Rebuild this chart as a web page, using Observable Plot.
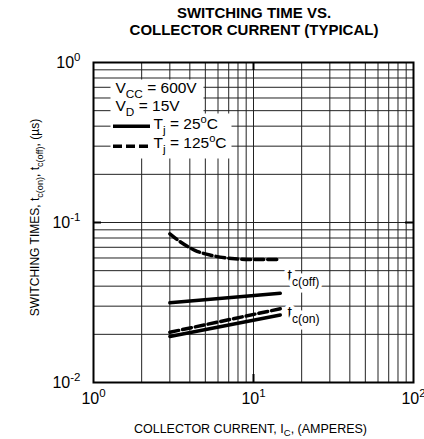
<!DOCTYPE html>
<html><head><meta charset="utf-8">
<script src="https://cdn.jsdelivr.net/npm/d3@7"></script>
<script src="https://cdn.jsdelivr.net/npm/@observablehq/plot@0.6"></script>
<style>
body{margin:0;background:#fff;font-family:"Liberation Sans",Arial,sans-serif;}
#wrap{position:relative;width:424px;height:439px;overflow:hidden;background:#fff;}
#title{position:absolute;left:93px;width:322px;top:4px;text-align:center;font-weight:bold;font-size:15px;line-height:17px;color:#000;}
#chart{position:absolute;left:0;top:40px;}
</style></head><body>
<div id="wrap"><div id="title"></div><div id="chart"></div></div>
<script>
// ---- text ----
const titleLines = ["SWITCHING TIME VS.", "COLLECTOR CURRENT (TYPICAL)"];
const xTitle = "COLLECTOR CURRENT, I_{C}, (AMPERES)";
const yTitle = "SWITCHING TIMES, t_{c(on)}, t_{c(off)}, (µs)";
const legendText = ["V_{CC} = 600V", "V_{D} = 15V", "T_{j} = 25^{o}C", "T_{j} = 125^{o}C"];

// ---- axes ----
const xDecades = [1, 10, 100];
const yDecades = [0.01, 0.1, 1];
const xGrid = [2,3,4,5,6,7,8,9,10,20,30,40,50,60,70,80,90];
const yGrid = [0.02,0.03,0.04,0.05,0.06,0.07,0.08,0.09,0.1,0.2,0.3,0.4,0.5,0.6,0.7,0.8,0.9];
const legendRowsY = [0.4, 0.3]; // legend swatches sit on these grid lines

// ---- series ----
const offI125 = [3, 3.5, 4.3, 5.5, 7.3, 9.3, 14.5];
const off125  = [0.085, 0.0755, 0.067, 0.0622, 0.0595, 0.0587, 0.0587];
const offI25  = [3, 14.7];
const off25   = [0.0315, 0.0361];
const onI     = [3, 14.7];
const on25    = [0.0194, 0.0264];
const on125   = [0.0206, 0.0289];

// ---- curve labels ----
const curveLabels = ["t_{c(off)}", "t_{c(on)}"];
const curveLabelI = [16.3, 16.3];
const curveLabelT = [0.0462, 0.0271];

const mk = (I, T, s) => I.map((d, i) => ({I: d, t: T[i], s}));
const solid = [mk(offI25, off25, "off25"), mk(onI, on25, "on25")];
const dashed = [mk(offI125, off125, "off125"), mk(onI, on125, "on125")];
const labels = curveLabels.map((l, i) => ({I: curveLabelI[i], t: curveLabelT[i], l}));

document.getElementById("title").innerHTML = titleLines.join("<br>");

const FONT = '"Liberation Sans", Arial, sans-serif';
const expFmt = d => "10^{" + Math.round(Math.log10(d)) + "}";

const plot = Plot.plot({
  width: 424, height: 399,
  marginLeft: 93, marginRight: 11, marginTop: 22, marginBottom: 57,
  style: {fontFamily: FONT, background: "white", color: "black", overflow: "visible"},
  x: {type: "log", domain: [1, 100]},
  y: {type: "log", domain: [0.01, 1]},
  marks: [
    Plot.gridX(xGrid, {stroke: "#222", strokeOpacity: 1, strokeWidth: 1}),
    Plot.gridY(yGrid, {stroke: "#222", strokeOpacity: 1, strokeWidth: 1}),
    // legend background
    Plot.frame({fill: "white", stroke: "none", insetLeft: 17, insetTop: 17, insetRight: 210, insetBottom: 267}),
    Plot.frame({fill: "white", stroke: "none", insetLeft: 17, insetTop: 51, insetRight: 182, insetBottom: 224}),
    // legend swatches
    Plot.ruleY([legendRowsY[0]], {stroke: "black", strokeWidth: 3.5, insetLeft: 20, insetRight: 263}),
    Plot.ruleY([legendRowsY[1]], {stroke: "black", strokeWidth: 3.5, strokeDasharray: "9,4", insetLeft: 20, insetRight: 263}),
    Plot.text([legendText[0]], {frameAnchor: "top-left", dx: 22, dy: 26, lineAnchor: "middle", textAnchor: "start", fontSize: 15.5}),
    Plot.text([legendText[1]], {frameAnchor: "top-left", dx: 22, dy: 44, lineAnchor: "middle", textAnchor: "start", fontSize: 15.5}),
    Plot.text([legendText[2]], {frameAnchor: "top-left", dx: 60, dy: 62, lineAnchor: "middle", textAnchor: "start", fontSize: 15.5}),
    Plot.text([legendText[3]], {frameAnchor: "top-left", dx: 60, dy: 81, lineAnchor: "middle", textAnchor: "start", fontSize: 15.5}),
    // curves
    ...solid.map(s => Plot.line(s, {x: "I", y: "t", stroke: "black", strokeWidth: 3.5})),
    ...dashed.map(s => Plot.line(s, {x: "I", y: "t", stroke: "black", strokeWidth: 3.5, strokeDasharray: "9,4", curve: "monotone-x"})),
    // curve labels
    Plot.text(labels, {x: "I", y: "t", text: "l", textAnchor: "start", lineAnchor: "middle", fontSize: 16,
      fill: "black", stroke: "white", strokeWidth: 7, strokeLinejoin: "round", paintOrder: "stroke"}),
    // frame + decade stubs
    Plot.frame({stroke: "black", strokeWidth: 2}),
    Plot.ruleX([xDecades[1]], {stroke: "black", strokeWidth: 2, insetTop: 312}),
    Plot.ruleX([xDecades[1]], {stroke: "black", strokeWidth: 2, insetBottom: 312}),
    Plot.ruleY([yDecades[1]], {stroke: "black", strokeWidth: 2, insetRight: 312}),
    Plot.ruleY([yDecades[1]], {stroke: "black", strokeWidth: 2, insetLeft: 312}),
    // axes
    Plot.axisX({ticks: xDecades, tickSize: 0, tickPadding: 10, tickFormat: expFmt, fontSize: 16, label: null}),
    Plot.axisY({ticks: yDecades, tickSize: 0, tickPadding: 13, tickFormat: expFmt, fontSize: 16, label: null}),
    Plot.text([xTitle], {frameAnchor: "bottom", dx: -3, dy: 46, lineAnchor: "middle", textAnchor: "middle", fontSize: 12.5}),
    Plot.text([yTitle], {frameAnchor: "left", dx: -58, dy: -5, rotate: -90, lineAnchor: "middle", textAnchor: "middle", fontSize: 12})
  ]
});
document.getElementById("chart").appendChild(plot);

// sub/superscript markup -> tspans
function applyMarkup(root) {
  root.querySelectorAll("text").forEach(el => {
    const s = el.textContent;
    if (!/[_^]\{/.test(s)) return;
    const fs = parseFloat(getComputedStyle(el).fontSize) || 12;
    const parts = [];
    const re = /([_^])\{([^}]*)\}/g;
    let last = 0, m;
    while ((m = re.exec(s))) {
      if (m.index > last) parts.push({t: s.slice(last, m.index), k: "n"});
      parts.push({t: m[2], k: m[1] === "_" ? "sub" : "sup"});
      last = re.lastIndex;
    }
    if (last < s.length) parts.push({t: s.slice(last), k: "n"});
    while (el.firstChild) el.removeChild(el.firstChild);
    let shift = 0;
    const ns = "http://www.w3.org/2000/svg";
    parts.forEach(p => {
      const ts = document.createElementNS(ns, "tspan");
      let target = 0, size = fs;
      if (p.k === "sub") { target = 0.28 * fs; size = 0.76 * fs; }
      if (p.k === "sup") { target = -0.42 * fs; size = 0.72 * fs; }
      const dy = target - shift;
      if (dy !== 0) ts.setAttribute("dy", dy);
      shift = target;
      ts.setAttribute("font-size", size);
      ts.textContent = p.t;
      el.appendChild(ts);
    });
  });
}
applyMarkup(plot);
</script>
</body></html>
